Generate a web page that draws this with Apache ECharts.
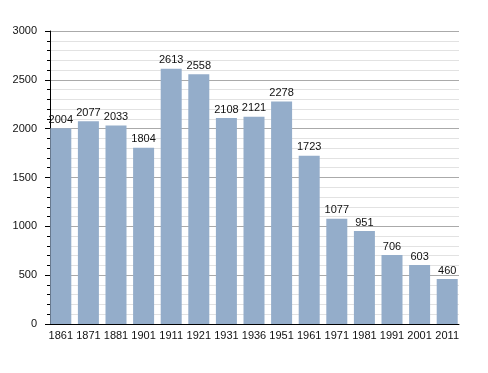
<!DOCTYPE html>
<html><head><meta charset="utf-8">
<script src="https://cdn.jsdelivr.net/npm/echarts@6/dist/echarts.min.js"></script>
<style>html,body{margin:0;padding:0;background:#fff}#c{width:488px;height:373px}</style>
</head><body><div id="c"></div>
<script>
var years = ['1861','1871','1881','1901','1911','1921','1931','1936','1951','1961','1971','1981','1991','2001','2011'];
var population = [2004,2077,2033,1804,2613,2558,2108,2121,2278,1723,1077,951,706,603,460];
var yTicks = [0,500,1000,1500,2000,2500,3000];

var chart = echarts.init(document.getElementById('c'), null, {renderer:'canvas'});
var font = 'Liberation Sans, Arial, sans-serif';
chart.setOption({
  animation:false,
  grid:[
    {left:50, right:29, top:31, bottom:49},
    {left:47, right:27, top:31, bottom:49}
  ],
  xAxis:[
    {gridIndex:0, type:'category', data:years, axisLine:{lineStyle:{color:'#000',width:1}}, axisTick:{show:false}, axisLabel:{show:false}},
    {gridIndex:1, type:'category', data:years, axisLine:{show:false}, axisTick:{show:false},
     axisLabel:{color:'#111', fontSize:11, fontFamily:font, margin:6, interval:0}}
  ],
  yAxis:[
    {gridIndex:0, type:'value', min:yTicks[0], max:yTicks[yTicks.length-1], interval:500,
     axisLine:{show:true, lineStyle:{color:'#000'}},
     axisTick:{show:true, length:5, lineStyle:{color:'#000'}},
     minorTick:{show:true, splitNumber:5, length:3, lineStyle:{color:'#000'}},
     splitLine:{show:true, lineStyle:{color:'#aaaaaa'}},
     minorSplitLine:{show:true, lineStyle:{color:'#e2e2e2'}},
     axisLabel:{color:'#111', fontSize:11, fontFamily:font, margin:13, formatter:function(v){return String(v);}}},
    {gridIndex:1, type:'value', min:yTicks[0], max:yTicks[yTicks.length-1], show:false, splitLine:{show:false}}
  ],
  series:[{
    type:'bar', xAxisIndex:1, yAxisIndex:1, data:population, barWidth:21,
    itemStyle:{color:'#94adca'},
    label:{show:true, position:'top', distance:3, color:'#111', fontSize:11, fontFamily:font}
  }]
});
</script></body></html>
